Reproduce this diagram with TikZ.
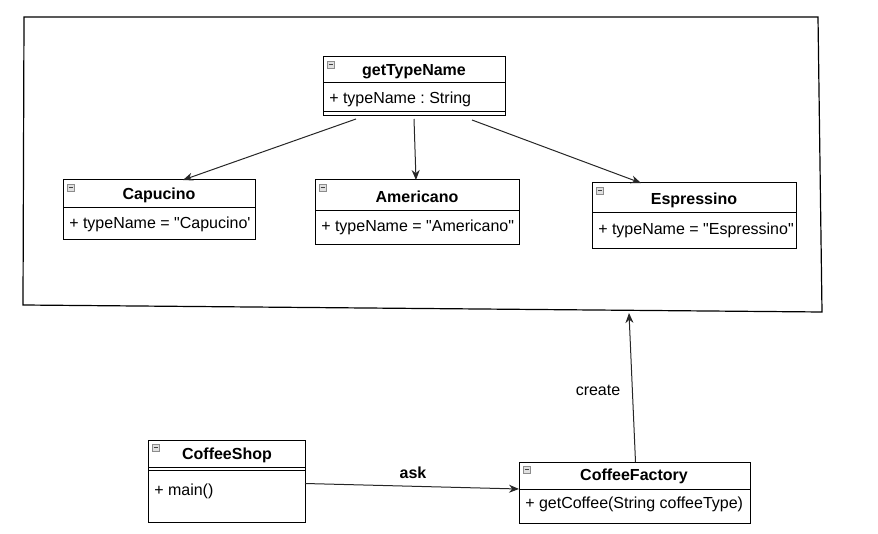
\documentclass[tikz,border=0pt]{standalone}
\usepackage{fontspec}
\setmainfont{Liberation Sans}[Ligatures=TeXOff]
\frenchspacing
\usetikzlibrary{arrows.meta,fit}
\tikzset{
  px/.style={x=0.75pt,y=-0.75pt},
  frameline/.style={draw=black,line width=0.9pt},
  boxline/.style={draw=black,line width=0.75pt},
  classbox/.style={draw=black,line width=0.75pt,inner sep=0pt,fill=white},
  ctitle/.style={font=\fontsize{12}{14}\selectfont\bfseries,inner sep=0pt},
  cattr/.style={font=\fontsize{12}{14}\selectfont,inner sep=0pt,anchor=west},
  lbl/.style={font=\fontsize{12}{14}\selectfont,inner sep=0pt},
  conn/.style={draw=black!85,line width=0.75pt,-{Stealth[length=7.5pt,width=6pt]}},
  iconbox/.style={draw=black!45,fill=black!12,line width=0.5pt},
  iconminus/.style={draw=black!75,line width=0.6pt}
}
\newcommand{\collapseicon}[2]{%
  \draw[iconbox] (#1+4,#2+4) rectangle (#1+11,#2+11);
  \draw[iconminus] (#1+5.5,#2+7.5) -- (#1+9.5,#2+7.5);
}
\begin{document}
\begin{tikzpicture}[px]
\useasboundingbox (0,0) rectangle (878,534);
% outer frame
\coordinate (fTL) at (24,17);
\coordinate (fTR) at (818,17);
\coordinate (fBR) at (822,312);
\coordinate (fBL) at (23,305);
\draw[frameline] (fTL) -- (fTR) -- (fBR) -- (fBL) -- cycle;

% getTypeName
\node[classbox,fit={(323,57)(505,116)}] (gtn) {};
\draw[boxline] (323,83) -- (505,83);
\draw[boxline] (323,112) -- (505,112);
\collapseicon{323}{57}
\node[ctitle] (gtnT) at (414,72) {getTypeName};
\node[cattr] (gtnA) at (329,99) {+ typeName : String};

% Capucino
\node[classbox,fit={(63,180)(255,240)}] (cap) {};
\draw[boxline] (63,208) -- (255,208);
\collapseicon{63}{180}
\node[ctitle] (capT) at (159,195) {Capucino};
\node[cattr] (capA) at (69,224) {+ typeName = "Capucino'};

% Americano
\node[classbox,fit={(315,180)(519,245)}] (ame) {};
\draw[boxline] (315,211) -- (519,211);
\collapseicon{315}{180}
\node[ctitle] (ameT) at (417,197) {Americano};
\node[cattr] (ameA) at (321,227) {+ typeName = "Americano"};

% Espressino
\node[classbox,fit={(592,183)(796,249)}] (esp) {};
\draw[boxline] (592,213) -- (796,213);
\collapseicon{592}{183}
\node[ctitle] (espT) at (694,200) {Espressino};
\node[cattr] (espA) at (598,230) {+ typeName = "Espressino"};

% CoffeeShop
\node[classbox,fit={(148,440)(305,522)}] (shop) {};
\draw[boxline] (148,467) -- (305,467);
\draw[boxline] (148,470.5) -- (305,470.5);
\collapseicon{148}{440}
\node[ctitle] (shopT) at (227,455) {CoffeeShop};
\node[cattr] (shopA) at (154,491) {+ main()};

% CoffeeFactory
\node[classbox,fit={(519,462)(750,523)}] (fac) {};
\draw[boxline] (519,489) -- (750,489);
\collapseicon{519}{462}
\node[ctitle] (facT) at (634,476) {CoffeeFactory};
\node[cattr] (facA) at (525,504) {+ getCoffee(String coffeeType)};

% connector end points
\coordinate (g1) at (356,119);
\coordinate (g2) at (414,119);
\coordinate (g3) at (472,120);
\coordinate (capIn) at (183,180);
\coordinate (ameIn) at (416,180);
\coordinate (espIn) at (641,183);
\coordinate (shopOut) at (305,483.5);
\coordinate (facIn) at (519,489);
\coordinate (facOut) at (635.5,462);
\coordinate (frameIn) at (629,313);

\draw[conn] (g1) -- (capIn);
\draw[conn] (g2) -- (ameIn);
\draw[conn] (g3) -- (espIn);
\draw[conn] (shopOut) -- (facIn);
\draw[conn] (facOut) -- (frameIn);

\node[lbl,font=\fontsize{12}{14}\selectfont\bfseries] (askL) at (413,473) {ask};
\node[lbl] (createL) at (598,390) {create};
\end{tikzpicture}
\end{document}
